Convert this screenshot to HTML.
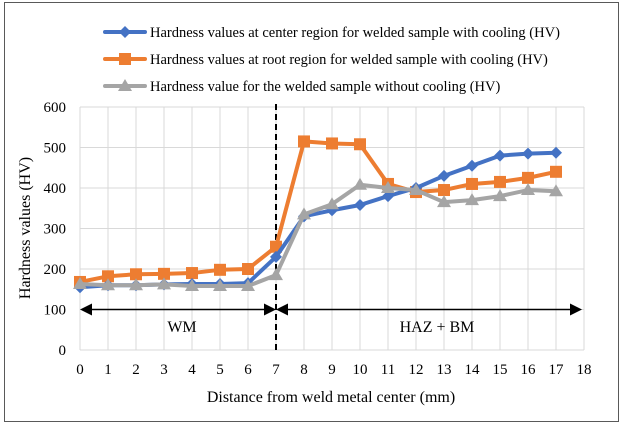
<!DOCTYPE html>
<html><head><meta charset="utf-8"><style>
body{margin:0;background:#fff;}
svg{display:block;font-family:"Liberation Serif",serif;}
</style></head><body>
<svg id="c" width="623" height="429">
<rect x="4.5" y="2.5" width="614" height="419" fill="#fff" stroke="#595959"/>
<g id="grid"></g><g id="series"></g>
</svg>
<script>
const categories=[0,1,2,3,4,5,6,7,8,9,10,11,12,13,14,15,16,17];
const xTicks=[0,1,2,3,4,5,6,7,8,9,10,11,12,13,14,15,16,17,18];
const yTicks=[0,100,200,300,400,500,600];
const centerVals=[155,160,160,162,163,163,165,230,330,345,358,380,400,430,455,480,485,487];
const rootVals=[168,182,187,188,190,198,200,255,515,510,508,410,390,395,410,415,425,440];
const noCoolVals=[163,160,160,162,158,158,158,185,335,360,408,400,395,365,370,380,395,392];
const names=["Hardness values at center region for welded sample with cooling (HV)","Hardness values at root region for welded sample with cooling (HV)","Hardness value for the welded sample without cooling (HV)"];
const NS="http://www.w3.org/2000/svg";
const G=document.getElementById('grid'),S=document.getElementById('series');
const X=v=>80+v*28, Y=v=>350-v*(350-107)/600;
function mk(tag,at,par){const e=document.createElementNS(NS,tag);for(const k in at)e.setAttribute(k,at[k]);par.appendChild(e);return e;}
xTicks.forEach(t=>{
 const l=mk('line',{x1:X(t),x2:X(t),y1:107,y2:350,stroke:'#d9d9d9'},G);
 
 
 const tx=mk('text',{x:X(t),y:374,'text-anchor':'middle','font-size':15},G);tx.textContent=t;
 
 
});
yTicks.forEach(t=>{
 const l=mk('line',{x1:80,x2:584,y1:Y(t),y2:Y(t),stroke:'#d9d9d9'},G);
 
 
 const tx=mk('text',{x:66,y:Y(t)+5,'text-anchor':'end','font-size':15},G);tx.textContent=t;
 
 
});
const yt=mk('text',{x:0,y:0,transform:'translate(30,228) rotate(-90)','text-anchor':'middle','font-size':16},G);yt.textContent='Hardness values (HV)';


const xt=mk('text',{x:331,y:402,'text-anchor':'middle','font-size':16},G);xt.textContent='Distance from weld metal center (mm)';


const ay=Y(100);
const a1=mk('line',{x1:X(0)+10,x2:X(7)-10,y1:ay,y2:ay,stroke:'#000','stroke-width':1.5},G);


const a2=mk('line',{x1:X(7)+10,x2:582-10,y1:ay,y2:ay,stroke:'#000','stroke-width':1.5},G);


[[X(0),1],[X(7),-1],[X(7),1],[582,-1]].forEach(([x,d])=>{const p=mk('polygon',{points:`${x},${ay} ${x+d*12},${ay-6} ${x+d*12},${ay+6}`,fill:'#000'},G);
 
 });
const wm=mk('text',{x:182,y:332,'text-anchor':'middle','font-size':16},G);wm.textContent='WM';


const hz=mk('text',{x:437,y:332,'text-anchor':'middle','font-size':16},G);hz.textContent='HAZ + BM';


const dl=mk('line',{x1:X(7),x2:X(7),y1:104,y2:352,stroke:'#000','stroke-width':2,'stroke-dasharray':'6,4'},G);


function marker(kind,x,y,col,par){
 if(kind==='d')return mk('polygon',{points:`${x},${y-6} ${x+6},${y} ${x},${y+6} ${x-6},${y}`,fill:col},par);
 if(kind==='s')return mk('rect',{x:x-6,y:y-6,width:12,height:12,fill:col},par);
 return mk('polygon',{points:`${x},${y-7} ${x+7},${y+5} ${x-7},${y+5}`,fill:col},par);
}
const sers=[[centerVals,'#4472c4','d','center'],[rootVals,'#ed7d31','s','root'],[noCoolVals,'#a5a5a5','t','no-cooling']];
[1,0,2].forEach(i=>{const [vals,col,k,n]=sers[i];
 const pl=mk('polyline',{points:vals.map((v,j)=>X(categories[j])+','+Y(v)).join(' '),fill:'none',stroke:col,'stroke-width':4,'stroke-linejoin':'round'},S);
 
 
 vals.forEach((v,j)=>{const m=marker(k,X(categories[j]),Y(v),col,S);
  
  });
});
sers.forEach(([v,col,k,n],i)=>{const y=32+i*27;
 const l=mk('line',{x1:105,x2:145,y1:y,y2:y,stroke:col,'stroke-width':4,'stroke-linecap':'round'},G);
 
 
 const m=marker(k,125,y,col,G);
 
 
 const t=mk('text',{x:150,y:y+5,'font-size':14.5},G);t.textContent=names[i];
 
 
});
</script>
</body></html>
